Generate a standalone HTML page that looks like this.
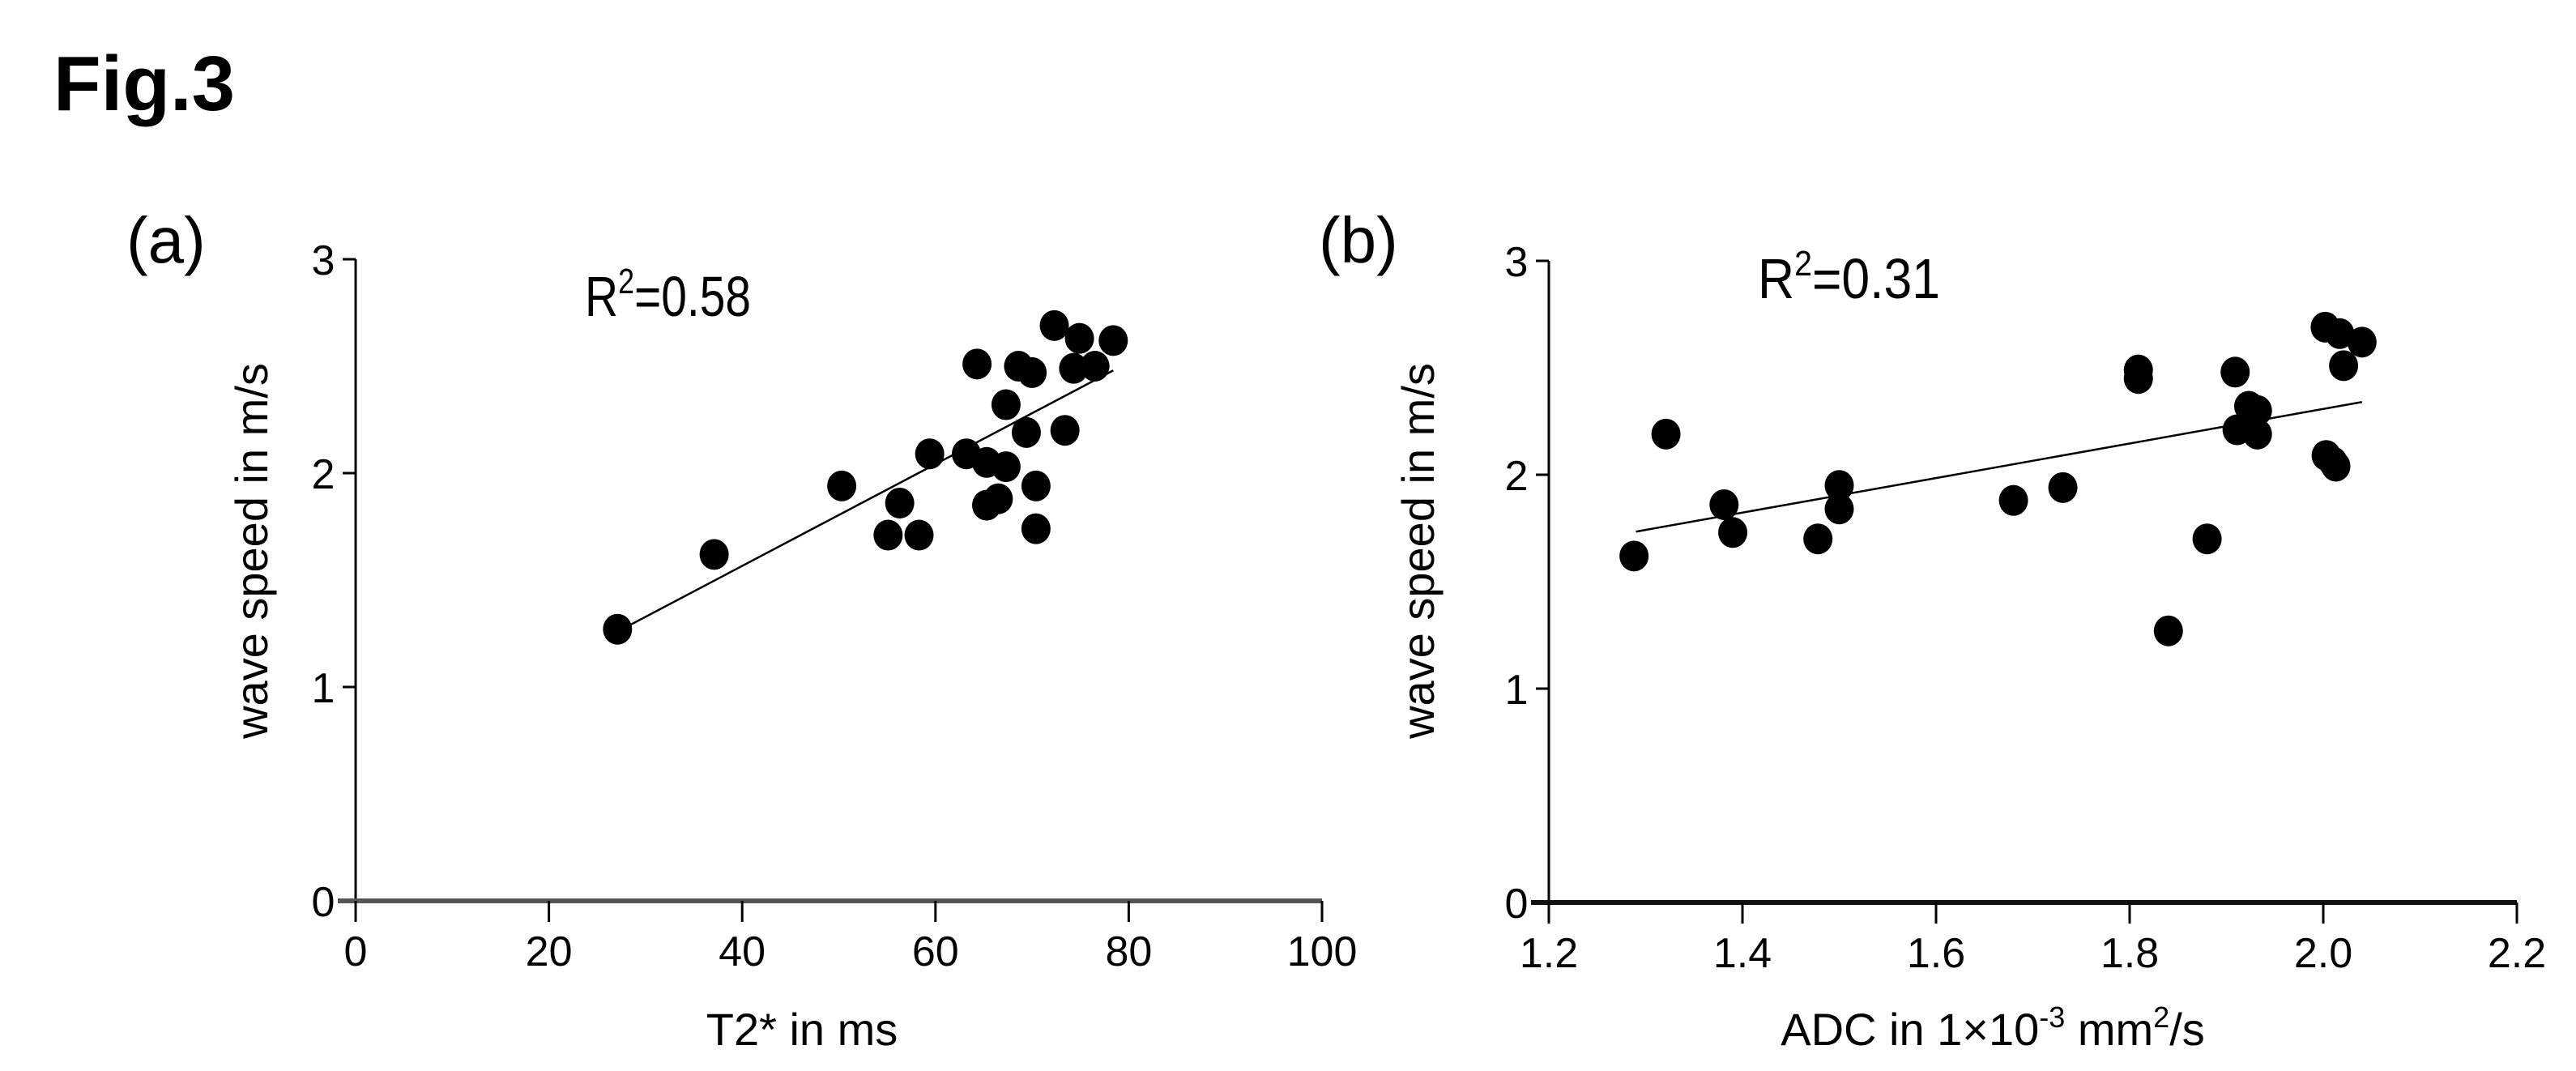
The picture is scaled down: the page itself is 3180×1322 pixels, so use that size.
<!DOCTYPE html>
<html><head><meta charset="utf-8"><style>
html,body{margin:0;padding:0;background:#fff}
body{position:relative}
svg text{font-family:"Liberation Sans",Arial,sans-serif;fill:#000}
</style></head><body>
<svg id="fig" width="3180" height="1317" viewBox="0 0 3180 1317" xmlns="http://www.w3.org/2000/svg">
<rect width="3180" height="1317" fill="#fff"/>
<text x="66" y="136" font-size="96" font-weight="bold">Fig.3</text>
<g id="pa"></g>
<g id="pb"></g>
</svg>
<script>
// Panel (a) data: T2* (ms) vs wave speed (m/s)
const aX = [27.1,37.1,50.3,56.3,55.1,58.3,59.4,63.2,64.3,65.3,67.3,65.3,66.5,67.3,68.6,70.0,69.4,70.4,70.4,72.3,73.4,74.9,74.3,76.5,78.4];
const aY = [1.27,1.62,1.94,1.86,1.71,1.71,2.09,2.09,2.51,2.05,2.03,1.85,1.88,2.32,2.50,2.47,2.19,1.94,1.74,2.69,2.20,2.63,2.49,2.50,2.62];
const aFitX = [28.4,78.4];
const aFitY = [1.29,2.48];
const aTicksX = ["0","20","40","60","80","100"];
const aTickValsX = [0,20,40,60,80,100];
// Panel (b) data: ADC vs wave speed
const bX = [1.288,1.321,1.381,1.39,1.478,1.50,1.50,1.68,1.731,1.809,1.809,1.84,1.88,1.909,1.911,1.923,1.932,1.932,2.002,2.003,2.013,2.017,2.021,2.04,2.01];
const bY = [1.62,2.19,1.86,1.73,1.70,1.95,1.84,1.88,1.94,2.49,2.45,1.27,1.70,2.48,2.21,2.32,2.30,2.19,2.69,2.09,2.04,2.66,2.51,2.62,2.06];
const bFitX = [1.29,2.04];
const bFitY = [1.734,2.34];
const bTicksX = ["1.2","1.4","1.6","1.8","2.0","2.2"];
const bTickValsX = [1.2,1.4,1.6,1.8,2.0,2.2];
const yTicks = ["0","1","2","3"];
const yTickVals = [0,1,2,3];

const NS = "http://www.w3.org/2000/svg";
function mk(tag, attrs, parent){
  const e = document.createElementNS(NS, tag);
  for (const k in attrs) e.setAttribute(k, attrs[k]);
  parent.appendChild(e);
  return e;
}

function panel(g, o){
  const sx = v => o.x0 + (v - o.xmin) / (o.xmax - o.xmin) * (o.x1 - o.x0);
  const sy = v => o.y0 - v / 3 * (o.y0 - o.y3);
  const ya = mk('line', {x1:o.x0, y1:o.y0 + 4, x2:o.x0, y2:o.y3, stroke:'#000', 'stroke-width':3}, g);
  
  
  yTickVals.forEach((v, i) => {
    const t = mk('line', {x1:o.x0 - 16, y1:sy(v), x2:o.x0, y2:sy(v), stroke:'#000', 'stroke-width':3}, g);
    
    
    const l = mk('text', {x:o.x0 - 40, y:sy(v) + 19, 'font-size':52, 'text-anchor':'middle'}, g);
    l.textContent = yTicks[i];
    
    
  });
  const xa = mk('line', {x1:o.x0 - 22, y1:o.y0, x2:o.x1, y2:o.y0, stroke:o.axisColor, 'stroke-width':6}, g);
  
  
  o.tickVals.forEach((v, i) => {
    const t = mk('line', {x1:sx(v), y1:o.y0, x2:sx(v), y2:o.y0 + 26, stroke:'#000', 'stroke-width':3}, g);
    
    
    const l = mk('text', {x:sx(v), y:o.y0 + 80, 'font-size':52, 'text-anchor':'middle'}, g);
    l.textContent = o.ticks[i];
    
    
  });
  const fl = mk('line', {x1:sx(o.fx[0]), y1:sy(o.fy[0]), x2:sx(o.fx[1]), y2:sy(o.fy[1]), stroke:'#000', 'stroke-width':2.5}, g);
  
  
  o.xs.forEach((v, i) => {
    const c = mk('ellipse', {cx:sx(v), cy:sy(o.ys[i]), rx:18, ry:19, fill:'#000'}, g);
    
    
  });
}

const pa = document.getElementById('pa');
const pb = document.getElementById('pb');
panel(pa, {x0:439, x1:1632, xmin:0, xmax:100, y0:1112, y3:320, xs:aX, ys:aY, fx:aFitX, fy:aFitY, ticks:aTicksX, tickVals:aTickValsX, axisColor:'#555'});
panel(pb, {x0:1912, x1:3107, xmin:1.2, xmax:2.2, y0:1114, y3:322, xs:bX, ys:bY, fx:bFitX, fy:bFitY, ticks:bTicksX, tickVals:bTickValsX, axisColor:'#111'});
</script>
<svg style="position:absolute;left:0;top:0" width="3180" height="1317" xmlns="http://www.w3.org/2000/svg">
<text x="156" y="324" font-size="80">(a)</text>
<text x="1628" y="324" font-size="80">(b)</text>
<text x="722" y="390" font-size="70" textLength="205" lengthAdjust="spacingAndGlyphs">R<tspan font-size="44" dy="-28">2</tspan><tspan dy="28">=0.58</tspan></text>
<text x="2170" y="368" font-size="70" textLength="225" lengthAdjust="spacingAndGlyphs">R<tspan font-size="44" dy="-28">2</tspan><tspan dy="28">=0.31</tspan></text>
<text transform="translate(330,680) rotate(-90)" font-size="56" text-anchor="middle">wave speed in m/s</text>
<text transform="translate(1770,680) rotate(-90)" font-size="56" text-anchor="middle">wave speed in m/s</text>
<text x="990" y="1290" font-size="56" text-anchor="middle">T2* in ms</text>
<text x="2460" y="1290" font-size="56" text-anchor="middle">ADC in 1×10<tspan font-size="36" dy="-22">-3</tspan><tspan dy="22"> mm</tspan><tspan font-size="36" dy="-22">2</tspan><tspan dy="22">/s</tspan></text>
</svg>
</body></html>
